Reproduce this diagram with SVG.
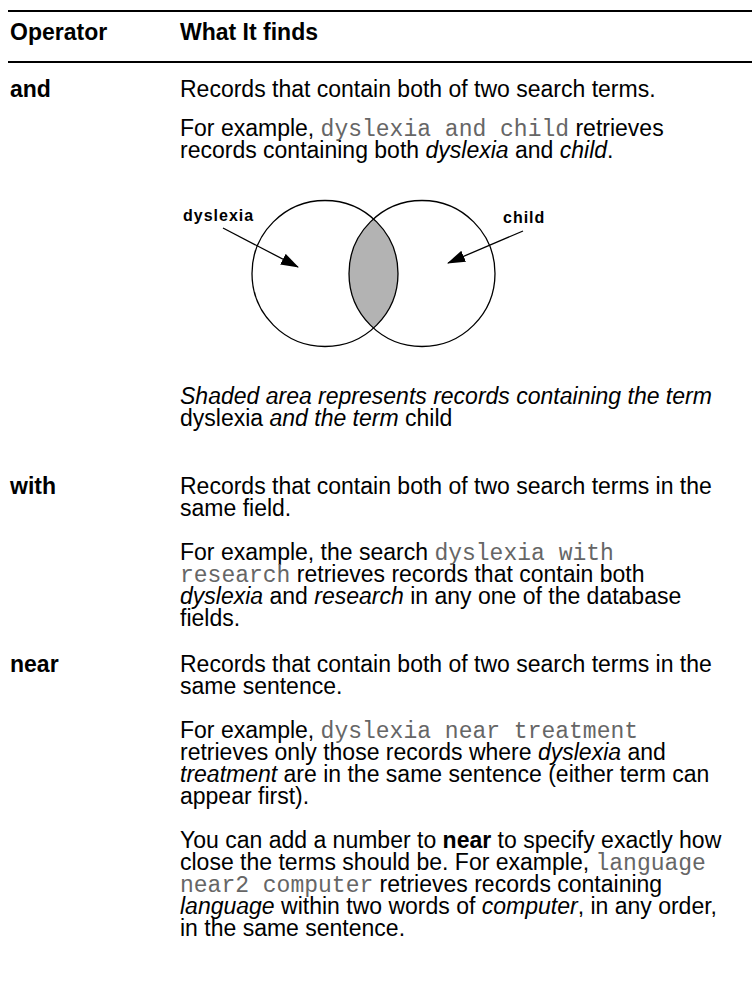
<svg xmlns="http://www.w3.org/2000/svg" width="752" height="985" viewBox="0 0 752 985">
<style>
text { font-family: "Liberation Sans", Arial, sans-serif; font-size: 23px; fill: #000; }
.b { font-weight: bold; }
.i { font-style: italic; }
.code { font-family: "Liberation Mono", "Courier New", monospace; fill: #666; }
.lbl { font-size: 16px; font-weight: bold; letter-spacing: 1px; }
.rule { stroke: #000; stroke-width: 2; }
.circ { fill: none; stroke: #000; stroke-width: 1.3; }
.arrow { stroke: #000; stroke-width: 1.3; fill: none; marker-end: url(#ah); }
</style>
<defs>
<marker id="ah" markerUnits="userSpaceOnUse" viewBox="0 0 18 12" refX="17" refY="6" markerWidth="18" markerHeight="12" orient="auto">
<path d="M0,0 L18,6 L0,12 z" fill="#000"/>
</marker>
</defs>
<rect width="752" height="985" fill="#fff"/>
<g id="header">
<line class="rule" x1="8" y1="11" x2="752" y2="11"/>
<text class="b" x="10" y="40">Operator</text>
<text class="b" x="180" y="40">What It finds</text>
<line class="rule" x1="8" y1="62" x2="752" y2="62"/>
</g>
<g id="row-and">
<text class="b" x="10" y="97">and</text>
<text x="180" y="97">Records that contain both of two search terms.</text>
<text x="180" y="136">For example, <tspan class="code">dyslexia and child</tspan> retrieves</text>
<text x="180" y="158">records containing both <tspan class="i">dyslexia</tspan> and <tspan class="i">child</tspan>.</text>
<text class="i" x="180" y="404">Shaded area represents records containing the term</text>
<text x="180" y="426">dyslexia <tspan class="i">and the term</tspan> child</text>
</g>
<g id="venn">
<path d="M373.5,218.9 A73,73 0 0,0 373.5,328.1 A73,73 0 0,0 373.5,218.9 z" fill="#b3b3b3" stroke="none"/>
<circle class="circ" cx="325" cy="273.5" r="73"/>
<circle class="circ" cx="422" cy="273.5" r="73"/>
<text class="lbl" x="183" y="221">dyslexia</text>
<text class="lbl" x="503" y="223">child</text>
</g>
<g id="connectors">
<line class="arrow" x1="223" y1="228" x2="298" y2="267"/>
<line class="arrow" x1="523" y1="231" x2="448" y2="263"/>
</g>
<g id="row-with">
<text class="b" x="10" y="494">with</text>
<text x="180" y="494">Records that contain both of two search terms in the</text>
<text x="180" y="516">same field.</text>
<text x="180" y="560">For example, the search <tspan class="code">dyslexia with</tspan></text>
<text x="180" y="582"><tspan class="code">research</tspan> retrieves records that contain both</text>
<text x="180" y="604"><tspan class="i">dyslexia</tspan> and <tspan class="i">research</tspan> in any one of the database</text>
<text x="180" y="626">fields.</text>
</g>
<g id="row-near">
<text class="b" x="10" y="672">near</text>
<text x="180" y="672">Records that contain both of two search terms in the</text>
<text x="180" y="694">same sentence.</text>
<text x="180" y="738">For example, <tspan class="code">dyslexia near treatment</tspan></text>
<text x="180" y="760">retrieves only those records where <tspan class="i">dyslexia</tspan> and</text>
<text x="180" y="782"><tspan class="i">treatment</tspan> are in the same sentence (either term can</text>
<text x="180" y="804">appear first).</text>
<text x="180" y="848">You can add a number to <tspan class="b">near</tspan> to specify exactly how</text>
<text x="180" y="870">close the terms should be. For example, <tspan class="code">language</tspan></text>
<text x="180" y="892"><tspan class="code">near2 computer</tspan> retrieves records containing</text>
<text x="180" y="914"><tspan class="i">language</tspan> within two words of <tspan class="i">computer</tspan>, in any order,</text>
<text x="180" y="936">in the same sentence.</text>
</g>
</svg>
